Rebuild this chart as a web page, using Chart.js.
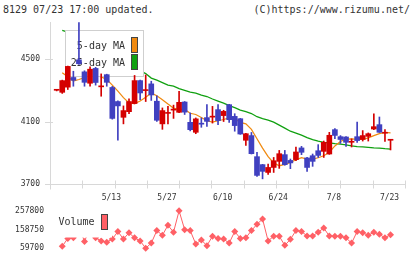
<!DOCTYPE html>
<html>
<head>
<meta charset="utf-8">
<script src="https://cdn.jsdelivr.net/npm/chart.js@4"></script>
<style>
  body { margin:0; background:#fff; }
  #wrap { position:relative; width:420px; height:259px; overflow:hidden; font-family:"DejaVu Sans Mono", monospace; }
  .hdr { position:absolute; top:4px; font-size:10px; line-height:12px; color:#333; white-space:pre; }
  canvas { position:absolute; left:0; }
</style>
</head>
<body>
<div id="wrap">
  <div class="hdr" style="left:3px;">8129 07/23 17:00 updated.</div>
  <div class="hdr" style="right:10px;">(C)https://www.rizumu.net/</div>
  <canvas id="price" width="420" height="206" style="top:0;"></canvas>
  <canvas id="vol" width="420" height="59" style="top:200px;"></canvas>
</div>
<script>
// trading days shown on the chart
const dates = ['4/24','4/25','4/26','4/30','5/1','5/2','5/7','5/8','5/9','5/10',
  '5/13','5/14','5/15','5/16','5/17','5/20','5/21','5/22','5/23','5/24',
  '5/27','5/28','5/29','5/30','5/31','6/3','6/4','6/5','6/6','6/7',
  '6/10','6/11','6/12','6/13','6/14','6/17','6/18','6/19','6/20','6/21',
  '6/24','6/25','6/26','6/27','6/28','7/1','7/2','7/3','7/4','7/5',
  '7/8','7/9','7/10','7/11','7/12','7/16','7/17','7/18','7/19','7/22','7/23'];
const dateTicks = [10, 20, 30, 40, 50, 60];

const opens  = [4300,4287,4320,4382,4495,4418,4345,4440,4322,4400,4318,4228,4127,4163,4215,4362,4298,4341,4230,4085,
  4152,4173,4159,4225,4095,4031,4088,4125,4128,4176,4138,4208,4133,4118,3980,4010,3875,3824,3774,3806,
  3845,3888,3851,3856,3931,3867,3881,3913,3909,3892,4048,4003,4001,3967,4003,3985,4005,4052,4080,4025,3980];
const highs  = [4305,4365,4455,4422,4734,4425,4450,4447,4405,4403,4325,4232,4200,4245,4395,4365,4398,4358,4265,4187,
  4197,4205,4294,4228,4155,4123,4123,4208,4197,4208,4172,4210,4150,4120,4024,4030,3903,3826,3828,3870,
  3915,3915,3860,3937,3941,3870,3892,3952,3975,4031,4055,4010,4003,3989,4097,4042,4027,4150,4129,4048,3984];
const lows   = [4296,4280,4305,4326,4465,4326,4326,4333,4262,4326,4115,3980,4085,4150,4213,4240,4228,4235,4100,4050,
  4085,4120,4157,4145,4040,4022,4063,4068,4090,4080,4100,4095,4038,4018,3947,3892,3749,3733,3762,3774,
  3800,3820,3798,3850,3888,3781,3813,3870,3870,3890,3990,3960,3941,3937,3967,3975,3975,4048,4030,3972,3918];
const closes = [4302,4362,4453,4364,4470,4351,4435,4350,4328,4351,4120,4200,4170,4228,4362,4283,4302,4270,4108,4170,
  4158,4178,4223,4160,4048,4117,4083,4101,4132,4106,4165,4112,4074,4020,4022,3894,3755,3781,3806,3849,
  3894,3824,3835,3905,3903,3806,3845,3883,3967,4012,4011,3985,3967,3971,3978,4010,4022,4067,4031,4029,3984];

const ma5 = [null,4413,4386,4359,4369,4381,4400,4397,4386,4369,4333,4295,4253,4219,4215,4231,4256,4282,4265,4240,
  4212,4186,4176,4177,4153,4145,4126,4105,4096,4105,4113,4123,4118,4095,4085,4050,3990,3930,3875,3835,
  3817,3825,3838,3855,3868,3860,3860,3868,3881,3903,3944,3972,3988,3989,3985,3985,3995,4010,4022,4030,4027];
const ma25 = [null,4683,4672,4655,4638,4620,4600,4582,4560,4540,4520,4500,4478,4455,4440,4425,4407,4378,4365,4349,
  4333,4327,4311,4300,4288,4282,4269,4260,4244,4231,4218,4202,4189,4173,4163,4151,4131,4119,4109,4096,
  4077,4058,4038,4026,4013,3997,3984,3974,3967,3963,3958,3955,3950,3944,3939,3937,3935,3931,3929,3926,3924];

const volumes = [null,69700,111600,114600,175000,95000,170000,114600,98100,91600,108100,148000,108100,141500,114600,98100,59700,86600,153000,128100,
  181500,144500,257800,158000,153000,81700,103100,73200,123100,111600,108100,86600,148000,111600,114600,153000,186400,214400,98100,123100,
  123100,74700,106600,153000,148000,124600,124600,144500,166500,124600,123100,123100,114600,86600,148000,141500,128100,144500,133100,114600,131600];

const priceTicks = [3700, 4100, 4500];
const volTicks = [59700, 158750, 257800];

const UP = '#d40000', DOWN = '#4040c0';
const ORANGE = '#f08a10', GREEN = '#10a010', VOLC = '#ff6066';
const AXIS = '#d8d8d8', TXT = '#333';
const MONO = '"DejaVu Sans Mono", monospace';

const candleColors = closes.map((c, i) => c >= opens[i] ? UP : DOWN);
const pts = arr => arr.map((v, i) => ({x: i, y: v}));
const xScale = {type: 'linear', min: -1.2, max: 62.6, offset: false};
const plainTicks = {font: {family: MONO, size: 8}, color: TXT, callback: v => String(v)};

const priceAxes = {
  id: 'priceAxes',
  beforeDatasetsDraw(chart) {
    const {ctx, chartArea: a, scales: {y}} = chart;
    const x0 = Math.round(a.left) + 0.5, yb = Math.round(a.bottom) + 0.5;
    ctx.save();
    ctx.strokeStyle = AXIS; ctx.lineWidth = 1;
    ctx.beginPath();
    ctx.moveTo(x0, 22); ctx.lineTo(x0, yb + 5);
    ctx.moveTo(a.left - 5, yb); ctx.lineTo(a.right + 1, yb);
    for (let k = 0; k <= 11; k++) {
      const x = Math.round(a.left + k * (a.right - a.left) / 11) + 0.5;
      ctx.moveTo(x, yb - 4); ctx.lineTo(x, yb + 4);
    }
    for (const v of priceTicks) {
      const py = Math.round(y.getPixelForValue(v)) + 0.5;
      ctx.moveTo(a.left - 5, py); ctx.lineTo(a.left + 3, py);
    }
    ctx.stroke();
    ctx.restore();
  }
};

// legend sits above the MA lines but under the candles
const priceLegend = {
  id: 'priceLegend',
  beforeDatasetDraw(chart, args) {
    if (args.index !== 2) return;
    const ctx = chart.ctx;
    ctx.save();
    ctx.fillStyle = '#fff';
    ctx.fillRect(66, 31, 77, 45);
    ctx.strokeStyle = '#cfcfcf';
    ctx.strokeRect(65.5, 30.5, 78, 46);
    ctx.font = '10px ' + MONO;
    ctx.fillStyle = TXT;
    ctx.textAlign = 'right';
    ctx.textBaseline = 'middle';
    ctx.fillText('5-day MA', 125, 46);
    ctx.fillText('25-day MA', 125, 63);
    ctx.strokeStyle = '#444';
    ctx.fillStyle = ORANGE; ctx.fillRect(131.5, 37.5, 6, 15); ctx.strokeRect(131.5, 37.5, 6, 15);
    ctx.fillStyle = GREEN;  ctx.fillRect(131.5, 54.5, 6, 15); ctx.strokeRect(131.5, 54.5, 6, 15);
    ctx.restore();
  }
};

new Chart(document.getElementById('price'), {
  type: 'bar',
  data: {
    datasets: [
      {type: 'line', label: '25-day MA', data: pts(ma25), borderColor: GREEN, borderWidth: 1.25, pointRadius: 0, order: 4},
      {type: 'line', label: '5-day MA', data: pts(ma5), borderColor: ORANGE, borderWidth: 1.25, pointRadius: 0, order: 3},
      {label: 'range', data: highs.map((h, i) => ({x: i, y: [lows[i], h]})), backgroundColor: candleColors,
        barThickness: 1, grouped: false, order: 2},
      {label: 'body', data: opens.map((o, i) => ({x: i, y: [o, closes[i]]})), backgroundColor: candleColors,
        barThickness: 5, minBarLength: 1, grouped: false, order: 1}
    ]
  },
  options: {
    responsive: false, animation: false, events: [],
    layout: {padding: {top: 20, right: 15, left: 0, bottom: 0}},
    plugins: {legend: {display: false}, tooltip: {enabled: false}},
    scales: {
      x: {...xScale, grid: {display: false, drawTicks: false}, border: {display: false},
        afterBuildTicks: s => { s.ticks = dateTicks.map(v => ({value: v})); },
        afterFit: s => { s.height = 22; },
        ticks: {...plainTicks, callback: v => dates[v], padding: 9, maxRotation: 0, autoSkip: false, labelOffset: -1}},
      y: {min: 3700, max: 4750, grid: {display: false, drawTicks: false}, border: {display: false},
        afterBuildTicks: s => { s.ticks = priceTicks.map(v => ({value: v})); },
        afterFit: s => { s.width = 50; },
        ticks: {...plainTicks, padding: 10}}
    }
  },
  plugins: [priceAxes, priceLegend]
});

const volLegend = {
  id: 'volLegend',
  afterDatasetsDraw(chart) {
    const ctx = chart.ctx;
    ctx.save();
    ctx.fillStyle = '#fff';
    ctx.fillRect(55, 11, 57, 26.5);
    ctx.font = '10px ' + MONO;
    ctx.fillStyle = TXT;
    ctx.textBaseline = 'middle';
    ctx.fillText('Volume', 58.5, 22.5);
    ctx.fillStyle = VOLC; ctx.strokeStyle = '#444';
    ctx.fillRect(101.5, 14.5, 6, 15); ctx.strokeRect(101.5, 14.5, 6, 15);
    ctx.restore();
  }
};

new Chart(document.getElementById('vol'), {
  type: 'line',
  data: {
    datasets: [{label: 'Volume', data: pts(volumes), borderColor: VOLC, borderWidth: 1,
      pointStyle: 'rectRot', pointRadius: 3.5, pointBackgroundColor: VOLC, pointBorderWidth: 0, clip: false}]
  },
  options: {
    responsive: false, animation: false, events: [],
    layout: {padding: {top: 9, right: 15, left: 0, bottom: 10.3}},
    plugins: {legend: {display: false}, tooltip: {enabled: false}},
    scales: {
      x: {...xScale, display: false},
      y: {min: 59700, max: 257800, grid: {display: false, drawTicks: false}, border: {display: false},
        afterBuildTicks: s => { s.ticks = volTicks.map(v => ({value: v})); },
        afterFit: s => { s.width = 50; },
        ticks: {...plainTicks, padding: 6}}
    }
  },
  plugins: [volLegend]
});
</script>
</body>
</html>
